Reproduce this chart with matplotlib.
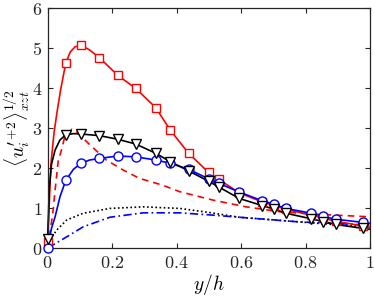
import matplotlib
matplotlib.use("Agg")
import matplotlib.pyplot as plt

plt.rcParams['mathtext.fontset'] = 'cm'
plt.rcParams['font.family'] = 'serif'
plt.rcParams['font.serif'] = ['DejaVu Serif']

# marker positions (y/h) shared by blue / black series
x_mk = [0.0, 0.056, 0.104, 0.16, 0.217, 0.273, 0.335, 0.38, 0.437, 0.499, 0.53,
        0.594, 0.666, 0.703, 0.739, 0.818, 0.855, 0.893, 0.979]
red_mk = [0.15, 4.62, 5.07, 4.76, 4.32, 3.99, 3.51, 2.95, 2.37, 1.89, 1.72,
          1.38, 1.15, 1.06, 0.97, 0.82, 0.75, 0.67, 0.55]
blue_mk = [0.0, 1.69, 2.12, 2.24, 2.30, 2.28, 2.20, 2.12, 1.97, 1.73, 1.62,
           1.40, 1.18, 1.09, 0.99, 0.87, 0.79, 0.72, 0.64]
black_mk = [0.22, 2.83, 2.85, 2.81, 2.72, 2.60, 2.37, 2.16, 1.93, 1.67, 1.53,
            1.24, 1.06, 0.97, 0.87, 0.73, 0.66, 0.59, 0.49]

# solid line traces
red_lx = [0.0, 0.01, 0.02, 0.03, 0.04, 0.056, 0.07, 0.085, 0.104, 0.13, 0.16, 0.217,
          0.273, 0.335, 0.38, 0.437, 0.499, 0.53, 0.594, 0.666, 0.703, 0.739, 0.818,
          0.855, 0.893, 0.979, 1.0]
red_ly = [0.15, 2.1, 2.9, 3.45, 3.95, 4.62, 4.9, 5.03, 5.07, 4.95, 4.76, 4.32,
          3.99, 3.51, 2.95, 2.37, 1.89, 1.72, 1.38, 1.15, 1.06, 0.97, 0.82,
          0.75, 0.67, 0.55, 0.52]
blue_lx = [0.0, 0.012, 0.023, 0.038, 0.056, 0.08, 0.104, 0.13, 0.16, 0.217, 0.273,
           0.335, 0.38, 0.437, 0.499, 0.53, 0.594, 0.666, 0.703, 0.739, 0.818,
           0.855, 0.893, 0.979, 1.0]
blue_ly = [0.0, 0.5, 0.78, 1.28, 1.69, 1.97, 2.12, 2.2, 2.24, 2.30, 2.28,
           2.20, 2.12, 1.97, 1.73, 1.62, 1.40, 1.18, 1.09, 0.99, 0.87,
           0.79, 0.72, 0.64, 0.62]
black_lx = [0.0, 0.005, 0.012, 0.023, 0.038, 0.056, 0.08, 0.104, 0.16, 0.217, 0.273,
            0.335, 0.38, 0.437, 0.499, 0.53, 0.594, 0.666, 0.703, 0.739, 0.818,
            0.855, 0.893, 0.979, 1.0]
black_ly = [0.22, 1.5, 2.1, 2.45, 2.7, 2.83, 2.86, 2.85, 2.81, 2.72, 2.60,
            2.37, 2.16, 1.93, 1.67, 1.53, 1.24, 1.06, 0.97, 0.87, 0.73,
            0.66, 0.59, 0.49, 0.47]

# dashed red
rdash_x = [0.0, 0.007, 0.017, 0.023, 0.033, 0.04, 0.053, 0.075, 0.09, 0.131, 0.182,
           0.234, 0.285, 0.357, 0.409, 0.512, 0.615, 0.718, 0.821, 0.9, 1.0]
rdash_y = [0.0, 0.37, 0.95, 1.45, 2.2, 2.37, 2.78, 2.97, 2.9, 2.58, 2.2,
           1.95, 1.74, 1.57, 1.41, 1.2, 1.03, 0.91, 0.85, 0.82, 0.78]
# dotted black
kdot_x = [0.0, 0.007, 0.028, 0.059, 0.11, 0.193, 0.296, 0.41, 0.5, 0.594, 0.77, 0.9, 1.0]
kdot_y = [0.0, 0.2, 0.45, 0.7, 0.87, 0.99, 1.03, 0.99, 0.89, 0.77, 0.66, 0.58, 0.52]
# dash-dot blue
bdd_x = [0.0, 0.059, 0.11, 0.193, 0.296, 0.41, 0.5, 0.594, 0.77, 0.9, 1.0]
bdd_y = [0.0, 0.28, 0.53, 0.77, 0.88, 0.88, 0.83, 0.77, 0.66, 0.61, 0.575]

xticks = [0, 0.2, 0.4, 0.6, 0.8, 1]
xticklabels = ['$0$', '$0.2$', '$0.4$', '$0.6$', '$0.8$', '$1$']
yticks = [0, 1, 2, 3, 4, 5, 6]
yticklabels = ['$0$', '$1$', '$2$', '$3$', '$4$', '$5$', '$6$']

fig = plt.figure(figsize=(3.74, 2.96), dpi=100)
ax = fig.add_axes([0.1275, 0.162, 0.862, 0.811])

lw = 1.2
ax.plot(rdash_x, rdash_y, color='red', ls=(0, (4, 3)), lw=lw)
ax.plot(kdot_x, kdot_y, color='black', ls=(0, (1, 1.5)), lw=lw)
ax.plot(bdd_x, bdd_y, color='blue', ls=(0, (5, 2, 1, 2)), lw=lw)

ax.plot(red_lx, red_ly, color='red', lw=lw, clip_on=False)
ax.plot(blue_lx, blue_ly, color='blue', lw=lw, clip_on=False)
ax.plot(black_lx, black_ly, color='black', lw=lw, clip_on=False)

ax.plot(x_mk, red_mk, ls='none', marker='s', ms=6, mfc='white', mec='red', mew=1.0,
        clip_on=False, zorder=3)
ax.plot(x_mk, blue_mk, ls='none', marker='o', ms=6.5, mfc='white', mec='blue', mew=1.0,
        clip_on=False, zorder=3)
ax.plot(x_mk, black_mk, ls='none', marker='v', ms=7, mfc='white', mec='black', mew=1.0,
        clip_on=False, zorder=3)

ax.set_xlim(0, 1)
ax.set_ylim(0, 6)
ax.set_xticks(xticks)
ax.set_xticklabels(xticklabels)
ax.set_yticks(yticks)
ax.set_yticklabels(yticklabels)
ax.tick_params(direction='in', top=True, right=True, length=3.5, width=0.8,
               labelsize=13, colors='#262626', pad=4)
for s in ax.spines.values():
    s.set_linewidth(0.9)
    s.set_color('#262626')

ax.set_xlabel(r'$y/h$', fontsize=14, labelpad=0)
ax.set_ylabel(r"$\langle u_i'^{+2}\rangle^{1/2}_{xzt}$", fontsize=14, labelpad=0)

fig.savefig('out.png', dpi=100)
